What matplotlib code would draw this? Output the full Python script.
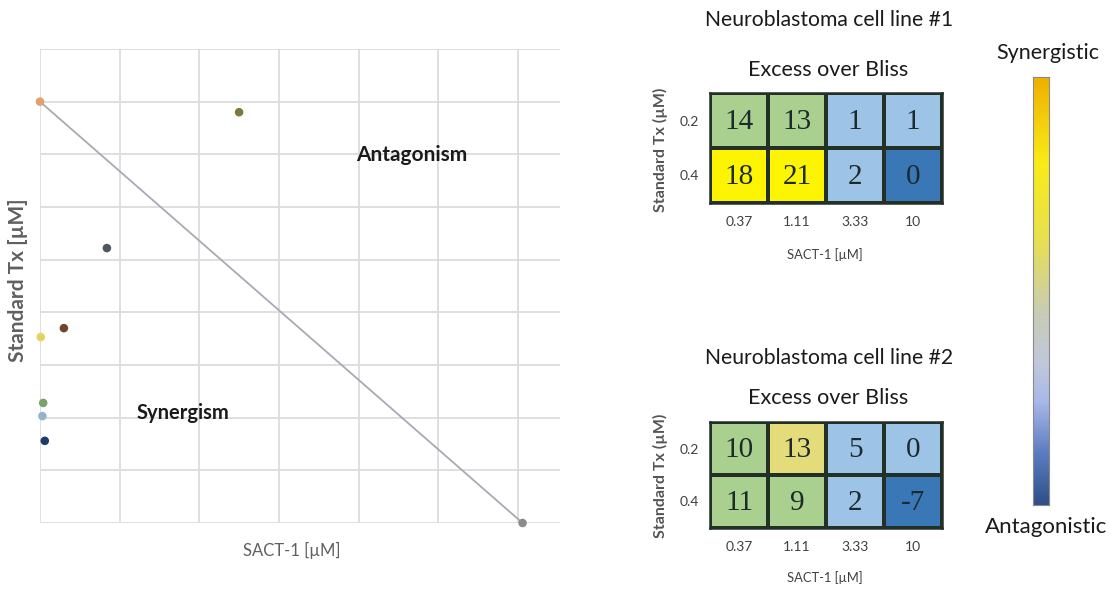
import numpy as np
import matplotlib
matplotlib.use("Agg")
import matplotlib.pyplot as plt
from matplotlib.colors import ListedColormap, BoundaryNorm, LinearSegmentedColormap

# ---------------- data ----------------
# Isobologram (left panel)
iso_x = [0.0, 2.50, 0.84, 0.30, 0.01, 0.04, 0.03, 0.06, 6.06]
iso_y = [8.0, 7.80, 5.22, 3.70, 3.53, 2.28, 2.03, 1.56, 0.0]
iso_colors = ["#e0a070", "#7b7a3c", "#505560", "#6e4630", "#e6d260",
              "#78a468", "#94b4c8", "#1e3a66", "#8c8c8c"]
additivity_x = [0.0, 6.06]
additivity_y = [8.0, 0.0]

# Heatmaps
sact_doses = ["0.37", "1.11", "3.33", "10"]
std_doses = ["0.2", "0.4"]
bliss_line1 = [[14, 13, 1, 1],
               [18, 21, 2, 0]]
bliss_line2 = [[10, 13, 5, 0],
               [11, 9, 2, -7]]
titles = ["Neuroblastoma cell line #1", "Neuroblastoma cell line #2"]

# ---------------- figure ----------------
W, H = 1111, 596
fig = plt.figure(figsize=(W / 100, H / 100), dpi=100)
fig.patch.set_facecolor("white")

def fx(px):
    return px / W

def fy(py):
    return 1 - py / H

FONT = ["Lato", "DejaVu Sans"]

# ---- left isobologram ----
ax = fig.add_axes([fx(40), fy(523), fx(560 - 40), (523 - 49) / H])
ax.set_xlim(0, 6.53)
ax.set_ylim(0, 9)
ax.set_xticks(np.arange(0, 7, 1))
ax.set_yticks(np.arange(0, 10, 1))
ax.grid(True, color="#dcdcdc", lw=1.3)
ax.tick_params(length=0, labelleft=False, labelbottom=False)
for s in ax.spines.values():
    s.set_visible(False)
ax.set_axisbelow(True)
ax.plot(additivity_x, additivity_y, color="#a9a9b6", lw=1.3, zorder=2)
ax.scatter(iso_x, iso_y, s=38, c=iso_colors, zorder=3, clip_on=False,
           edgecolors="none")
ax.text(4.67, 6.98, "Antagonism", ha="center", va="center", fontsize=15,
        fontweight="bold", family=FONT, color="#1a1a1a")
ax.text(1.80, 2.09, "Synergism", ha="center", va="center", fontsize=14.5,
        fontweight="bold", family=FONT, color="#1a1a1a")
fig.text(fx(18), fy(280), "Standard Tx [\u00b5M]", rotation=90, ha="center",
         va="center", fontsize=15, fontweight="bold", family=FONT,
         color="#606060")
fig.text(fx(292), fy(550), "SACT-1 [\u00b5M]", ha="center", va="center",
         fontsize=12, family=FONT, color="#606060")

# ---- heatmaps ----
cell_colors = ["#3a77b6", "#9dc3e6", "#a9d08e", "#e4dc7a", "#fcf400"]
cmap = ListedColormap(cell_colors)
bounds_list = [[-10, 0.5, 7, 15, 16, 30],
               [-10, -1, 7, 12, 15, 30]]
panels = [
    dict(data=bliss_line1, title=titles[0], box=(710, 93, 942, 203),
         t1=20, t2=70, xt=222, xl=255, yl=150),
    dict(data=bliss_line2, title=titles[1], box=(710, 422, 942, 528),
         t1=358, t2=398, xt=547, xl=578, yl=476),
]
for p, bounds in zip(panels, bounds_list):
    x0, y0, x1, y1 = p["box"]
    hax = fig.add_axes([fx(x0), fy(y1), fx(x1 - x0), (y1 - y0) / H])
    arr = np.array(p["data"], dtype=float)
    norm = BoundaryNorm(bounds, cmap.N)
    hax.pcolormesh(np.arange(arr.shape[1] + 1), np.arange(arr.shape[0] + 1),
                   arr, cmap=cmap, norm=norm, edgecolors="#223026",
                   linewidth=1.5)
    hax.set_xlim(0, arr.shape[1])
    hax.set_ylim(arr.shape[0], 0)
    for i in range(arr.shape[0]):
        for j in range(arr.shape[1]):
            hax.text(j + 0.5, i + 0.52, str(int(arr[i, j])), ha="center",
                     va="center", fontsize=21, family=["Liberation Serif"],
                     color="#1c2a2c")
    hax.set_xticks(np.arange(arr.shape[1]) + 0.5)
    hax.set_yticks(np.arange(arr.shape[0]) + 0.5)
    hax.set_xticklabels([])
    hax.set_yticklabels(std_doses, fontsize=10, family=FONT, color="#404040")
    hax.tick_params(length=0, pad=8)
    for s in hax.spines.values():
        s.set_color("#223026")
        s.set_linewidth(1.8)
    xcenters = hax.transData.transform(
        np.column_stack([np.arange(arr.shape[1]) + 0.5, np.zeros(arr.shape[1])]))
    for lab, (xp, _) in zip(sact_doses, xcenters):
        fig.text(xp / fig.dpi / fig.get_figwidth(), fy(p["xt"]), lab,
                 ha="center", va="center", fontsize=10, family=FONT,
                 color="#404040")
    fig.text(fx(829), fy(p["t1"]), p["title"], ha="center", va="center",
             fontsize=15.2, family=FONT, color="#1a1a1a")
    fig.text(fx(828), fy(p["t2"]), "Excess over Bliss", ha="center",
             va="center", fontsize=15.5, family=FONT, color="#1a1a1a")
    fig.text(fx(825), fy(p["xl"]), "SACT-1 [\u00b5M]", ha="center",
             va="center", fontsize=9.3, family=FONT, color="#404040")
    fig.text(fx(660), fy(p["yl"]), "Standard Tx (\u00b5M)", rotation=90,
             ha="center", va="center", fontsize=11.5, fontweight="bold",
             family=FONT, color="#555555")

# ---- colour scale bar ----
bar_colors = ["#2f4f8a", "#5c7cc0", "#a8b8e8", "#c0c8dc", "#c8ccb4",
              "#e8e050", "#f8ec18", "#f0b000"]
bar_cmap = LinearSegmentedColormap.from_list(
    "syn", list(zip([0, 0.12, 0.24, 0.33, 0.45, 0.62, 0.8, 1.0], bar_colors)))
cax = fig.add_axes([fx(1033), fy(505), fx(16), (505 - 77) / H])
grad = np.linspace(0, 1, 256).reshape(-1, 1)
cax.imshow(grad, aspect="auto", cmap=bar_cmap, origin="lower")
cax.set_xticks([])
cax.set_yticks([])
for s in cax.spines.values():
    s.set_color("#8a8a8a")
    s.set_linewidth(0.8)
fig.text(fx(1048), fy(53), "Synergistic", ha="center", va="center",
         fontsize=15.5, family=FONT, color="#1a1a1a")
fig.text(fx(1046), fy(527), "Antagonistic", ha="center", va="center",
         fontsize=16, family=FONT, color="#1a1a1a")

fig.savefig("out.png", dpi=100, facecolor="white")
